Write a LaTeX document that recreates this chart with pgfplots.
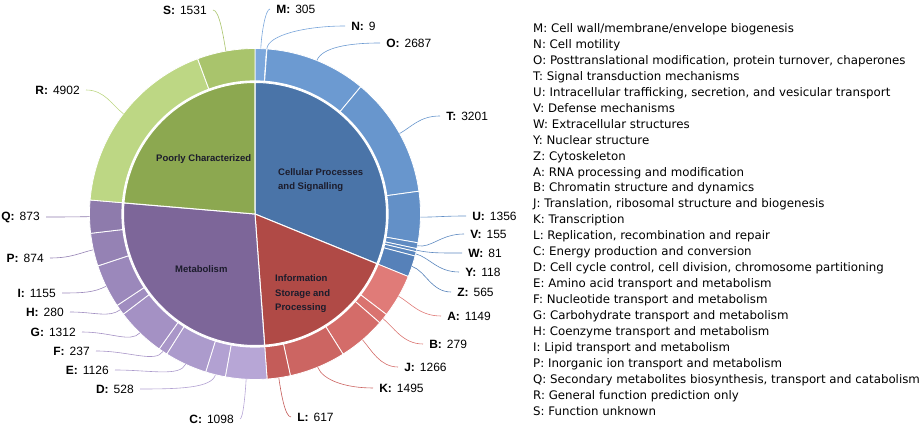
\documentclass[border=0pt]{standalone}
\usepackage{fontspec}
\setmainfont{Liberation Sans}
\newfontfamily\legfamily{DejaVu Sans}
\usepackage{pgfplots}
\usepackage{pgfplotstable}
\pgfplotsset{compat=1.18}

% outer ring colours
\definecolor{cM}{HTML}{7BA7DC}
\definecolor{cN}{HTML}{78A4DA}
\definecolor{cO}{HTML}{6C9AD1}
\definecolor{cT}{HTML}{6896CD}
\definecolor{cU}{HTML}{6390C7}
\definecolor{cV}{HTML}{5F8BC2}
\definecolor{cW}{HTML}{5D89C0}
\definecolor{cY}{HTML}{5B87BE}
\definecolor{cZ}{HTML}{5681B9}
\definecolor{cA}{HTML}{E07B78}
\definecolor{cB}{HTML}{DA736F}
\definecolor{cJ}{HTML}{D46C69}
\definecolor{cK}{HTML}{CC6562}
\definecolor{cL}{HTML}{C45C59}
\definecolor{cC}{HTML}{B7A6D6}
\definecolor{cD}{HTML}{B2A1D2}
\definecolor{cE}{HTML}{AC9BCC}
\definecolor{cF}{HTML}{A996C8}
\definecolor{cG}{HTML}{A491C4}
\definecolor{cH}{HTML}{A08DC0}
\definecolor{cI}{HTML}{9B88BB}
\definecolor{cP}{HTML}{9582B4}
\definecolor{cQ}{HTML}{8E7BAC}
\definecolor{cR}{HTML}{BDD784}
\definecolor{cS}{HTML}{A9C46C}
% inner pie colours
\definecolor{iCell}{HTML}{4A74A8}
\definecolor{iInfo}{HTML}{B04A46}
\definecolor{iMeta}{HTML}{7D6699}
\definecolor{iPoor}{HTML}{8CA850}
\definecolor{ctext}{HTML}{1C1C2C}

% outer ring: COG category counts (label positions in image pixels)
\pgfplotstableread{
cog value col lx ly side
M 305 cM 270 9 1
N 9 cN 345 26 1
O 2687 cO 380 43 1
T 3201 cT 440 116 1
U 1356 cU 466 216 1
V 155 cV 464 234 1
W 81 cW 462 253 1
Y 118 cY 459 272 1
Z 565 cZ 451 292 1
A 1149 cA 441 316 1
B 279 cB 423 344 1
J 1266 cJ 398 367 1
K 1495 cK 373 388 1
L 617 cL 291 417 1
C 1098 cC 240 419 -1
D 528 cD 140 389 -1
E 1126 cE 115 370 -1
F 237 cF 96 351 -1
G 1312 cG 82 332 -1
H 280 cH 70 312 -1
I 1155 cI 62 293 -1
P 874 cP 50 258 -1
Q 873 cQ 46 217 -1
R 4902 cR 86 90 -1
S 1531 cS 213 10 -1
}\outerdata

% inner pie: group totals
\pgfplotstableread{
grp value col
Cell 8477 iCell
Info 4806 iInfo
Meta 7483 iMeta
Poor 6433 iPoor
}\innerdata

\def\total{0}%
\pgfplotsforeachungrouped \i in {0,...,24}{%
  \pgfplotstablegetelem{\i}{value}\of\outerdata
  \pgfmathsetmacro\total{\total+\pgfplotsretval/100}%
}%

\def\Ro{165.5}
\def\Ri{131.5}
\def\Rgap{133.6}
\newcommand\labfont{\fontsize{12}{14}\selectfont}
\newcommand\legfont{\legfamily\fontsize{11.8}{14}\selectfont}
\newcommand\cenfont{\fontsize{9.5}{11}\selectfont\bfseries}

\begin{document}
\begin{tikzpicture}
\useasboundingbox (0,0) rectangle (924pt,430pt);
\begin{axis}[
  at={(0,0)}, anchor=south west,
  x=1pt, y=1pt,
  xmin=0, xmax=924, ymin=0, ymax=430,
  hide axis, clip=false,
]
% ---------- outer ring ----------
\def\cum{0}%
\pgfplotsforeachungrouped \i in {0,...,24}{%
  \pgfplotstablegetelem{\i}{value}\of\outerdata \pgfmathsetmacro\wv{\pgfplotsretval/100}%
  \pgfplotstablegetelem{\i}{col}\of\outerdata \edef\wc{\pgfplotsretval}%
  \pgfmathsetmacro\aS{90-360*(\cum/\total)}%
  \pgfmathsetmacro\cum{\cum+\wv}%
  \pgfmathsetmacro\aE{90-360*(\cum/\total)}%
  \pgfmathsetmacro\dA{\aE-(\aS)}%
  \edef\tmp{\noexpand\addplot[fill=\wc, draw=white, line width=0.8pt, samples at={-1,0,0.01,...,1,2}]
    ({255+\Ro*(x>(-0.5))*(x<1.5)*cos(\aS+(\dA)*min(max(x,0),1))},
     {216+\Ro*(x>(-0.5))*(x<1.5)*sin(\aS+(\dA)*min(max(x,0),1))});}%
  \tmp
  % leader line and label
  \pgfmathsetmacro\aM{(\aS+\aE)/2}%
  \pgfmathsetmacro\px{255+\Ro*cos(\aM)}%
  \pgfmathsetmacro\py{216+\Ro*sin(\aM)}%
  \pgfmathsetmacro\qx{255+(\Ro+14)*cos(\aM)}%
  \pgfmathsetmacro\qy{216+(\Ro+14)*sin(\aM)}%
  \pgfplotstablegetelem{\i}{lx}\of\outerdata \edef\lx{\pgfplotsretval}%
  \pgfplotstablegetelem{\i}{ly}\of\outerdata \pgfmathsetmacro\ly{430-\pgfplotsretval}%
  \pgfplotstablegetelem{\i}{side}\of\outerdata \edef\sd{\pgfplotsretval}%
  \pgfmathsetmacro\rx{\lx-(\sd)*0.5*abs(\lx-(\px))}%
  \ifnum\sd>0 \def\anc{west}\else\def\anc{east}\fi
  \pgfmathsetmacro\sh{(\sd)*6}%
  \pgfplotstablegetelem{\i}{cog}\of\outerdata \edef\cg{\pgfplotsretval}%
  \pgfplotstablegetelem{\i}{value}\of\outerdata \edef\val{\pgfplotsretval}%
  \edef\tmp{\noexpand\draw[\wc, line width=0.6pt] (axis cs:\px,\py) .. controls (axis cs:\qx,\qy) and (axis cs:\rx,\ly) .. (axis cs:\lx,\ly)
     node[anchor=\anc, inner sep=0pt, xshift=\sh pt, text=black, font=\noexpand\labfont] {\noexpand\textbf{\cg:}\noexpand\hspace{5pt}\val};}%
  \tmp
}
% ---------- white gap ----------
\addplot[fill=white, draw=none, domain=0:360, samples=181] ({255+\Rgap*cos(x)},{216+\Rgap*sin(x)});
% ---------- inner pie ----------
\def\cum{0}%
\pgfplotsforeachungrouped \i in {0,...,3}{%
  \pgfplotstablegetelem{\i}{value}\of\innerdata \pgfmathsetmacro\wv{\pgfplotsretval/100}%
  \pgfplotstablegetelem{\i}{col}\of\innerdata \edef\wc{\pgfplotsretval}%
  \pgfmathsetmacro\aS{90-360*(\cum/\total)}%
  \pgfmathsetmacro\cum{\cum+\wv}%
  \pgfmathsetmacro\aE{90-360*(\cum/\total)}%
  \pgfmathsetmacro\dA{\aE-(\aS)}%
  \edef\tmp{\noexpand\addplot[fill=\wc, draw=white, line width=1pt, samples at={-1,0,0.01,...,1,2}]
    ({255+\Ri*(x>(-0.5))*(x<1.5)*cos(\aS+(\dA)*min(max(x,0),1))},
     {216+\Ri*(x>(-0.5))*(x<1.5)*sin(\aS+(\dA)*min(max(x,0),1))});}%
  \tmp
}
\end{axis}
% ---------- group names ----------
\begin{scope}[every node/.style={anchor=base west, inner sep=0pt, text=ctext, font=\cenfont}]
\node at (156pt,268.5pt) {Poorly Characterized};
\node at (278pt,254.5pt) {Cellular Processes};
\node at (278pt,240.5pt) {and Signalling};
\node at (175pt,157.5pt) {Metabolism};
\node at (275pt,148.5pt) {Information};
\node at (275pt,133.5pt) {Storage and};
\node at (275pt,119.5pt) {Processing};
\end{scope}
% ---------- legend ----------
\foreach \t [count=\k from 0] in {
 {M: Cell wall/membrane/envelope biogenesis},
 {N: Cell motility},
 {O: Posttranslational modification, protein turnover, chaperones},
 {T: Signal transduction mechanisms},
 {U: Intracellular trafficking, secretion, and vesicular transport},
 {V: Defense mechanisms},
 {W: Extracellular structures},
 {Y: Nuclear structure},
 {Z: Cytoskeleton},
 {A: RNA processing and modification},
 {B: Chromatin structure and dynamics},
 {J: Translation, ribosomal structure and biogenesis},
 {K: Transcription},
 {L: Replication, recombination and repair},
 {C: Energy production and conversion},
 {D: Cell cycle control, cell division, chromosome partitioning},
 {E: Amino acid transport and metabolism},
 {F: Nucleotide transport and metabolism},
 {G: Carbohydrate transport and metabolism},
 {H: Coenzyme transport and metabolism},
 {I: Lipid transport and metabolism},
 {P: Inorganic ion transport and metabolism},
 {Q: Secondary metabolites biosynthesis, transport and catabolism},
 {R: General function prediction only},
 {S: Function unknown}}{
  \node[anchor=base west, inner sep=0pt, font=\legfont] at (533pt,{(430-32.5-15.95*\k)*1pt}) {\t};
}
\end{tikzpicture}
\end{document}
